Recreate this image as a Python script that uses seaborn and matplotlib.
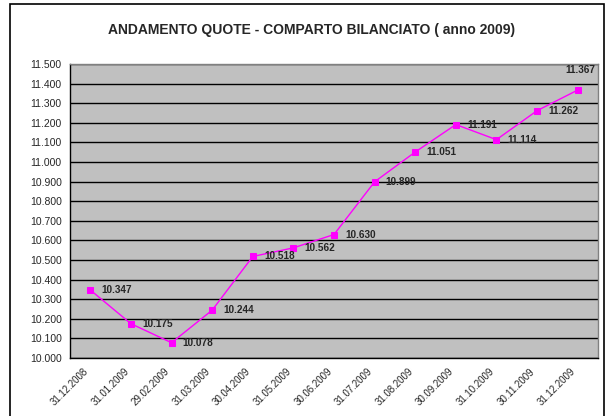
import matplotlib
matplotlib.use("Agg")
import matplotlib.pyplot as plt
import matplotlib.patches as mpatches
from matplotlib.ticker import FuncFormatter, FixedLocator
import seaborn as sns
import pandas as pd

dates = ["31.12.2008", "31.01.2009", "29.02.2009", "31.03.2009", "30.04.2009",
         "31.05.2009", "30.06.2009", "31.07.2009", "31.08.2009", "30.09.2009",
         "31.10.2009", "30.11.2009", "31.12.2009"]
quote = [10347, 10175, 10078, 10244, 10518, 10562, 10630, 10899, 11051,
         11191, 11114, 11262, 11367]

sns.set_style("white")
plt.rcParams["font.family"] = ["Liberation Sans", "DejaVu Sans"]

df = pd.DataFrame({"pos": range(len(dates)), "quota": quote})

fig = plt.figure(figsize=(6.05, 4.16), dpi=100)
ax = fig.add_axes([70 / 605, 1 - 358 / 416, 528 / 605, 294 / 416])

# chart frame
fig.patches.append(mpatches.Rectangle((10 / 605, -0.05), 594 / 605, 1.05 - 4 / 416,
                                      transform=fig.transFigure, fill=False,
                                      edgecolor="black", linewidth=1.2))

ax.set_facecolor("#C0C0C0")
sns.lineplot(data=df, x="pos", y="quota", ax=ax, color="#FF00FF", linewidth=1,
             marker="s", markersize=4.5, markeredgecolor="#FF00FF")

ax.set_xlim(-0.5, len(dates) - 0.5)
ax.set_ylim(10000, 11500)
ax.yaxis.set_major_locator(FixedLocator(range(10000, 11501, 100)))
ax.yaxis.set_major_formatter(FuncFormatter(lambda v, p: f"{v:,.0f}".replace(",", ".")))
ax.grid(axis="y", color="black", linewidth=1)
ax.set_axisbelow(True)

ax.set_xticks(range(len(dates)))
ax.set_xticklabels(dates, rotation=45, ha="right", rotation_mode="default")
ax.set_xticks([i - 0.5 for i in range(len(dates) + 1)], minor=True)
ax.tick_params(axis="x", which="major", length=0, labelsize=7, pad=6)
ax.tick_params(axis="x", which="minor", length=4, width=0.8, color="black", direction="out")
ax.tick_params(axis="y", length=4, width=0.8, color="black", direction="out", labelsize=7.5, pad=2)
ax.set_xlabel("")
ax.set_ylabel("")

for s in ["top", "right"]:
    ax.spines[s].set_color("#808080")
    ax.spines[s].set_linewidth(1)
for s in ["left", "bottom"]:
    ax.spines[s].set_color("black")
    ax.spines[s].set_linewidth(1)

for i, v in enumerate(quote):
    txt = f"{v:,.0f}".replace(",", ".")
    if i == len(quote) - 1:
        ax.annotate(txt, (i, v), xytext=(2, 11), textcoords="offset points",
                    ha="center", va="bottom", fontsize=7.2, fontweight="bold")
    else:
        ax.annotate(txt, (i, v), xytext=(8, 0), textcoords="offset points",
                    ha="left", va="center", fontsize=7.2, fontweight="bold")

fig.text(0.515, 1 - 30 / 416, "ANDAMENTO QUOTE - COMPARTO BILANCIATO ( anno 2009)",
         ha="center", va="center", fontsize=10, fontweight="bold")

fig.savefig("out.png", dpi=100)
